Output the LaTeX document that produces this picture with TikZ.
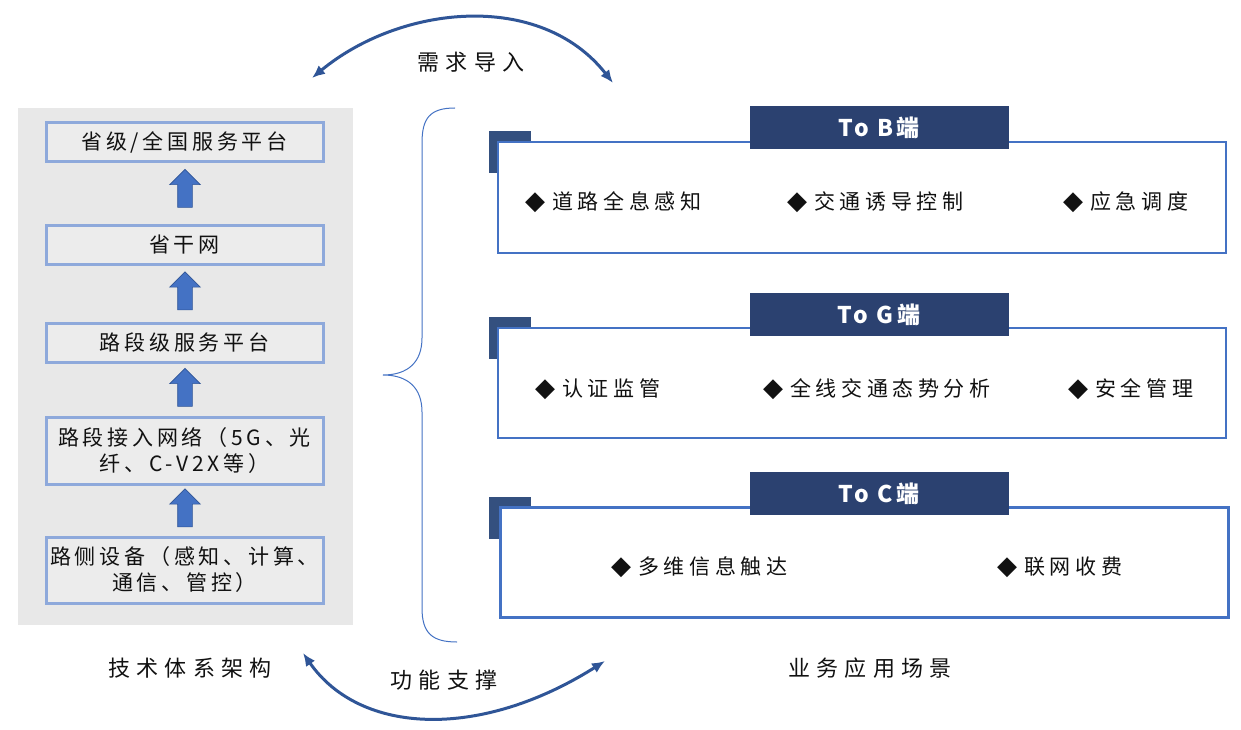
\documentclass[tikz,border=0pt]{standalone}
\usepackage{fontspec}
\usetikzlibrary{arrows.meta,shapes.arrows}
\newfontfamily\cjk[LetterSpace=18]{Noto Sans CJK SC}
\newfontfamily\cjkitem[LetterSpace=22]{Noto Sans CJK SC}
\newfontfamily\cjkwide[LetterSpace=28]{Noto Sans CJK SC}
\newfontfamily\cjktab[LetterSpace=14]{Noto Sans CJK SC}
\newfontfamily\symfont{DejaVu Sans}
\definecolor{panelgray}{HTML}{E8E8E8}
\definecolor{boxgray}{HTML}{ECECEC}
\definecolor{lightblue}{HTML}{8EA9DB}
\definecolor{midblue}{HTML}{4472C4}
\definecolor{darkblue}{HTML}{2F5597}
\definecolor{navy}{HTML}{2B4170}
\definecolor{cornernavy}{HTML}{34507F}
\definecolor{txt}{HTML}{111111}
\newcommand{\dia}{{\symfont\fontsize{26pt}{26pt}\selectfont ◆}\hspace{7pt}}
\begin{document}
\begin{tikzpicture}[x=1pt,y=-1pt,
  layerbox/.style={draw=lightblue,line width=3pt,fill=boxgray,minimum width=277pt,inner sep=0pt,align=center,text=txt,font=\cjk\fontsize{21pt}{26pt}\selectfont},
  uparrow/.style={single arrow,shape border rotate=90,fill=midblue,draw=darkblue,line width=0.6pt,minimum height=38pt,inner xsep=7pt,inner ysep=0pt,single arrow head extend=8pt,single arrow head indent=0pt},
  scenebox/.style={draw=midblue,line width=2pt,fill=white,minimum width=728pt,minimum height=110pt,inner sep=0pt},
  cornersq/.style={fill=cornernavy,minimum width=42pt,minimum height=42pt,inner sep=0pt},
  tab/.style={fill=navy,minimum width=259pt,minimum height=43pt,inner sep=0pt,text=white,font=\cjktab\bfseries\fontsize{23pt}{23pt}\selectfont},
  item/.style={anchor=west,inner sep=0pt,text=txt,font=\cjkitem\fontsize{21pt}{26pt}\selectfont},
  caption/.style={inner sep=0pt,text=txt,font=\cjkwide\fontsize{22pt}{26pt}\selectfont},
  curvearrow/.style={draw=darkblue,line width=3pt,{Latex[length=13pt,width=11pt]}-{Latex[length=13pt,width=11pt]}},
  bracestyle/.style={draw=midblue,line width=1pt}
]
\useasboundingbox (0,0) rectangle (1241,730);
\fill[white] (0,0) rectangle (1241,730);

% left panel
\node[fill=panelgray,minimum width=335pt,minimum height=517pt,inner sep=0pt] (panel) at (185.5,366.5) {};

\node[layerbox,minimum height=39pt] (b1) at (184.5,142.5) {省级/全国服务平台};
\node[layerbox,minimum height=39pt] (b2) at (184.5,244.5) {省干网};
\node[layerbox,minimum height=39pt] (b3) at (184.5,342.5) {路段级服务平台};
\node[layerbox,minimum height=67pt] (b4) at (184.5,450.5) {路段接入网络（5G、光\\纤、C-V2X等）};
\node[layerbox,minimum height=66pt] (b5) at (184.5,570) {路侧设备（感知、计算、\\通信、管控）};

\node[uparrow] (a1) at (185,192) {};
\node[uparrow] (a2) at (185,294.5) {};
\node[uparrow] (a3) at (185,391) {};
\node[uparrow] (a4) at (185,511.5) {};

% brace
\coordinate (brtop) at (455,108);
\coordinate (brtip) at (383,375);
\coordinate (brbot) at (457,642);
\draw[bracestyle] (brtop) .. controls (430,108) and (422,118) .. (422,143)
  -- (422,338) .. controls (422,362) and (408,375) .. (brtip)
  .. controls (408,375) and (422,388) .. (422,412)
  -- (422,608) .. controls (422,633) and (432,642) .. (brbot);

% scene boxes
\node[cornersq] (qB) at (510,152) {};
\node[scenebox] (sB) at (862,197.5) {};
\node[tab] (tB) at (879,127.5) {To B端};
\node[item] (iB1) at (525,202) {\dia 道路全息感知};
\node[item] (iB2) at (787,202) {\dia 交通诱导控制};
\node[item] (iB3) at (1063,202) {\dia 应急调度};

\node[cornersq] (qG) at (510,338) {};
\node[scenebox] (sG) at (862,383) {};
\node[tab] (tG) at (879,314.5) {To G端};
\node[item] (iG1) at (535,389) {\dia 认证监管};
\node[item] (iG2) at (763,389) {\dia 全线交通态势分析};
\node[item] (iG3) at (1068,389) {\dia 安全管理};

\node[cornersq] (qC) at (510,518) {};
\node[scenebox,line width=3pt] (sC) at (864,562) {};
\node[tab] (tC) at (879,493.5) {To C端};
\node[item] (iC1) at (611,567) {\dia 多维信息触达};
\node[item] (iC2) at (997,567) {\dia 联网收费};

% captions
\node[caption] (capL) at (190,668) {技术体系架构};
\node[caption] (capR) at (870,668) {业务应用场景};
\node[caption] (capTop) at (471,62) {需求导入};
\node[caption] (capBot) at (444,680) {功能支撑};

% curved arrows
\coordinate (tl) at (312,78);
\coordinate (tr) at (613,83);
\coordinate (bl) at (303,653);
\coordinate (br) at (605,661);
\draw[curvearrow] (tl) .. controls (400,5) and (540,-10) .. (tr);
\draw[curvearrow] (bl) .. controls (360,735) and (480,740) .. (br);
\end{tikzpicture}
\end{document}
